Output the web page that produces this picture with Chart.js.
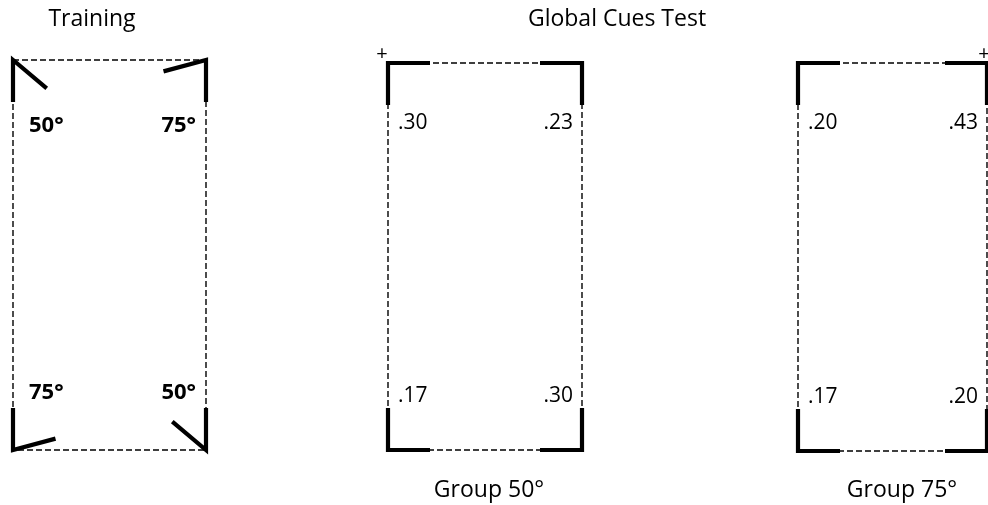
<!DOCTYPE html>
<html>
<head>
<meta charset="utf-8">
<script src="https://cdn.jsdelivr.net/npm/chart.js@4"></script>
<style>
  html, body { margin: 0; padding: 0; background: #fff; }
  #wrap { width: 988px; height: 505px; position: relative; }
</style>
</head>
<body>
<div id="wrap"><canvas id="chart"></canvas></div>
<script>
// ---- data ----
const headerTitles = ['Training', 'Global Cues Test'];
const panelNames = ['Training', 'Group 50°', 'Group 75°'];
const trainingAngles = [50, 75, 75, 50];        // corner order: TL, TR, BL, BR
const group50Values = [0.30, 0.23, 0.17, 0.30];  // same corner order
const group75Values = [0.20, 0.43, 0.17, 0.20];
const groupStartCorner = ['left', 'right'];      // where the '+' sits

// ---- layout (pixel-like units, scales span the whole canvas) ----
const panels = [
  { left: 13, right: 206, top: 60, bottom: 450 },
  { left: 388, right: 582, top: 63, bottom: 450 },
  { left: 798, right: 987, top: 63, bottom: 451 }
];
const cornerSides = [['left', 'top'], ['right', 'top'], ['left', 'bottom'], ['right', 'bottom']];
const headerX = [92, 617];
const captionX = [489, 902];
const ARM = 42;
const DIAG = 44;
const FONT = '"Open Sans", "Noto Sans", sans-serif';

function cornerOf(p, i) {
  const [h, v] = cornerSides[i];
  return {
    x: h === 'left' ? p.left : p.right,
    y: v === 'top' ? p.top : p.bottom,
    hx: h === 'left' ? 1 : -1,
    vy: v === 'top' ? 1 : -1,
    h, v
  };
}

function lineSet(points, width, dash) {
  return {
    data: points,
    showLine: true,
    borderColor: '#000',
    backgroundColor: '#000',
    borderWidth: width,
    borderDash: dash || [],
    borderCapStyle: 'butt',
    borderJoinStyle: 'miter',
    pointRadius: 0,
    pointHoverRadius: 0,
    fill: false,
    tension: 0,
    clip: false
  };
}

const datasets = [];
// dashed outlines
panels.forEach(p => {
  datasets.push(lineSet([
    { x: p.left, y: p.top }, { x: p.right, y: p.top },
    { x: p.right, y: p.bottom }, { x: p.left, y: p.bottom },
    { x: p.left, y: p.top }
  ], 1.4, [6, 3]));
});
// training corners: wall plus angled arm
trainingAngles.forEach((deg, i) => {
  const c = cornerOf(panels[0], i);
  const r = deg * Math.PI / 180;
  datasets.push(lineSet([
    { x: c.x, y: c.y + c.vy * ARM },
    { x: c.x, y: c.y },
    { x: c.x + c.hx * DIAG * Math.sin(r), y: c.y + c.vy * DIAG * Math.cos(r) }
  ], 4.2));
});
// test corners: right angles
[group50Values, group75Values].forEach((vals, g) => {
  vals.forEach((v, i) => {
    const c = cornerOf(panels[g + 1], i);
    datasets.push(lineSet([
      { x: c.x, y: c.y + c.vy * ARM },
      { x: c.x, y: c.y },
      { x: c.x + c.hx * ARM, y: c.y }
    ], 4.2));
  });
});

function fmt(v) { return v.toFixed(2).replace(/^0/, ''); }

const textPlugin = {
  id: 'diagramText',
  afterDatasetsDraw(chart) {
    const { ctx, scales: { x, y } } = chart;
    ctx.save();
    ctx.fillStyle = '#000';
    ctx.textBaseline = 'alphabetic';

    ctx.font = '23px ' + FONT;
    ctx.textAlign = 'center';
    headerTitles.forEach((t, i) => ctx.fillText(t, x.getPixelForValue(headerX[i]), y.getPixelForValue(26)));
    panelNames.slice(1).forEach((t, i) => ctx.fillText(t, x.getPixelForValue(captionX[i]), y.getPixelForValue(497)));

    // training angle labels
    ctx.font = 'bold 22px ' + FONT;
    trainingAngles.forEach((deg, i) => {
      const c = cornerOf(panels[0], i);
      ctx.textAlign = c.h === 'left' ? 'left' : 'right';
      const tx = c.h === 'left' ? c.x + 16 : c.x - 10;
      const ty = c.v === 'top' ? c.y + 72 : c.y - 51;
      ctx.fillText(deg + '°', x.getPixelForValue(tx), y.getPixelForValue(ty));
    });

    // test proportions
    [group50Values, group75Values].forEach((vals, g) => {
      ctx.font = '21px ' + FONT;
      vals.forEach((v, i) => {
        const c = cornerOf(panels[g + 1], i);
        ctx.textAlign = c.h === 'left' ? 'left' : 'right';
        const tx = c.h === 'left' ? c.x + 10 : c.x - 9;
        const ty = c.v === 'top' ? c.y + 66 : c.y - 48;
        ctx.fillText(fmt(v), x.getPixelForValue(tx), y.getPixelForValue(ty));
      });
      // start marker
      const p = panels[g + 1];
      const left = groupStartCorner[g] === 'left';
      ctx.font = '20px ' + FONT;
      ctx.textAlign = 'center';
      ctx.textBaseline = 'middle';
      ctx.fillText('+', x.getPixelForValue(left ? p.left - 6 : p.right - 3), y.getPixelForValue(p.top - 9));
      ctx.textBaseline = 'alphabetic';
    });
    ctx.restore();
  }
};

new Chart(document.getElementById('chart'), {
  type: 'scatter',
  data: { datasets },
  options: {
    responsive: true,
    maintainAspectRatio: false,
    animation: false,
    events: [],
    layout: { padding: 0 },
    plugins: { legend: { display: false }, tooltip: { enabled: false } },
    scales: {
      x: { type: 'linear', min: 0, max: 988, display: false },
      y: { type: 'linear', min: 0, max: 505, reverse: true, display: false }
    }
  },
  plugins: [textPlugin]
});
</script>
</body>
</html>
